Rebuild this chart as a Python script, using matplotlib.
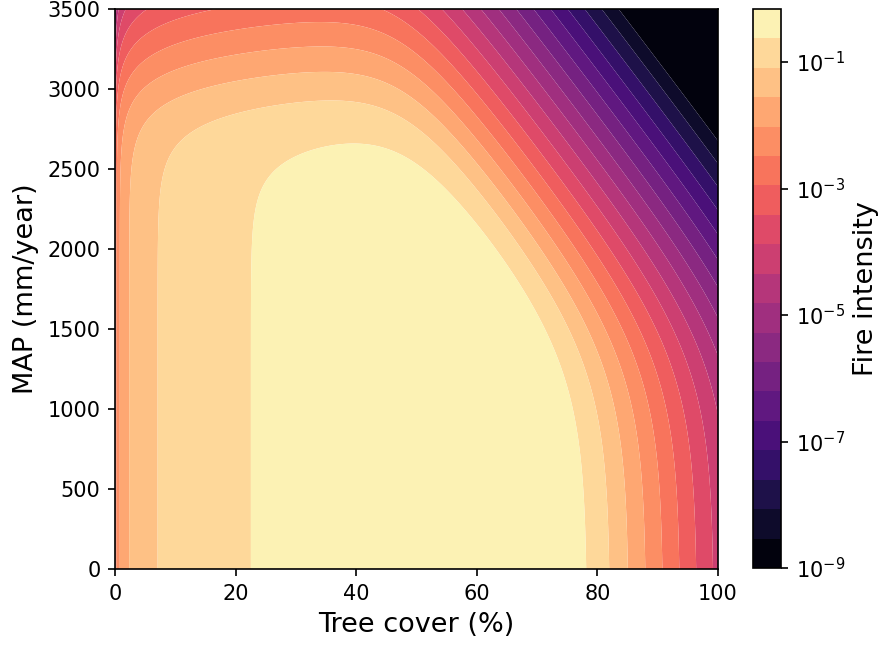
import numpy as np
import matplotlib
matplotlib.use("Agg")
import matplotlib.pyplot as plt
from matplotlib.colors import LogNorm

# Axes of the response surface
tree_cover = np.linspace(0.0, 100.0, 601)      # %
rainfall = np.linspace(0.0, 3500.0, 601)       # MAP, mm/year

# Fire-intensity model parameters
fuel_amplitude = 1.93        # grass fuel amplitude
fuel_half_cover = 161.0      # % tree cover, half-saturation of the fuel term
closure_cover = 77.2         # % tree cover where canopy closure suppresses fire (dry end)
closure_width = 2.75         # % width of the canopy-closure transition
closure_rain_slope = 0.0072  # per mm/year: how fast rainfall lowers the closure threshold
closure_rain_knee = 1330.0   # mm/year where that effect sets in
closure_rain_soft = 350.0    # mm/year, softness of that knee
wet_rain = 2790.0            # mm/year where fuel moisture suppresses fire
wet_width = 150.0            # mm/year
blend = 1.8                  # softness of the switch between the two suppression terms
decay = 1.073                # steepness of the suppression term

# Filled-contour levels and colour-bar ticks (log10 of fire intensity)
level_min_exp = -9.0
level_max_exp = -0.16
n_levels = 20
cbar_tick_exps = [-9, -7, -5, -3, -1]

T, P = np.meshgrid(tree_cover, rainfall)
Tc = np.clip(T, 0.05, None)

fuel = fuel_amplitude * Tc / (Tc + fuel_half_cover)
rain_effect = closure_rain_slope * closure_rain_soft * np.logaddexp(
    0.0, (P - closure_rain_knee) / closure_rain_soft)
g_canopy = (Tc - closure_cover) / closure_width + rain_effect
g_wet = (P - wet_rain) / wet_width
g = blend * np.logaddexp(g_canopy / blend, g_wet / blend)
intensity = fuel * np.exp(-decay * np.logaddexp(0.0, g))

levels = np.logspace(level_min_exp, level_max_exp, n_levels)
intensity = np.clip(intensity, levels[0] * 1.001, None)

fig = plt.figure(figsize=(881 / 150, 645 / 150), dpi=150)
ax = fig.add_axes([0.1305, 0.1178, 0.6845, 0.8682])
cax = fig.add_axes([0.8547, 0.1194, 0.0318, 0.8667])

cs = ax.contourf(T, P, intensity, levels=levels, norm=LogNorm(), cmap="magma",
                 antialiased=True)
ax.set_xlim(0, 100)
ax.set_ylim(0, 3500)
ax.set_xticks([0, 20, 40, 60, 80, 100])
ax.set_yticks(np.arange(0, 3501, 500))
ax.set_xlabel("Tree cover (%)", fontsize=13)
ax.set_ylabel("MAP (mm/year)", fontsize=13)

cbar = fig.colorbar(cs, cax=cax)
cbar.set_ticks([10.0 ** e for e in cbar_tick_exps])
cbar.ax.minorticks_off()
cbar.set_label("Fire intensity", fontsize=13)

fig.savefig("out.png", dpi=150)
